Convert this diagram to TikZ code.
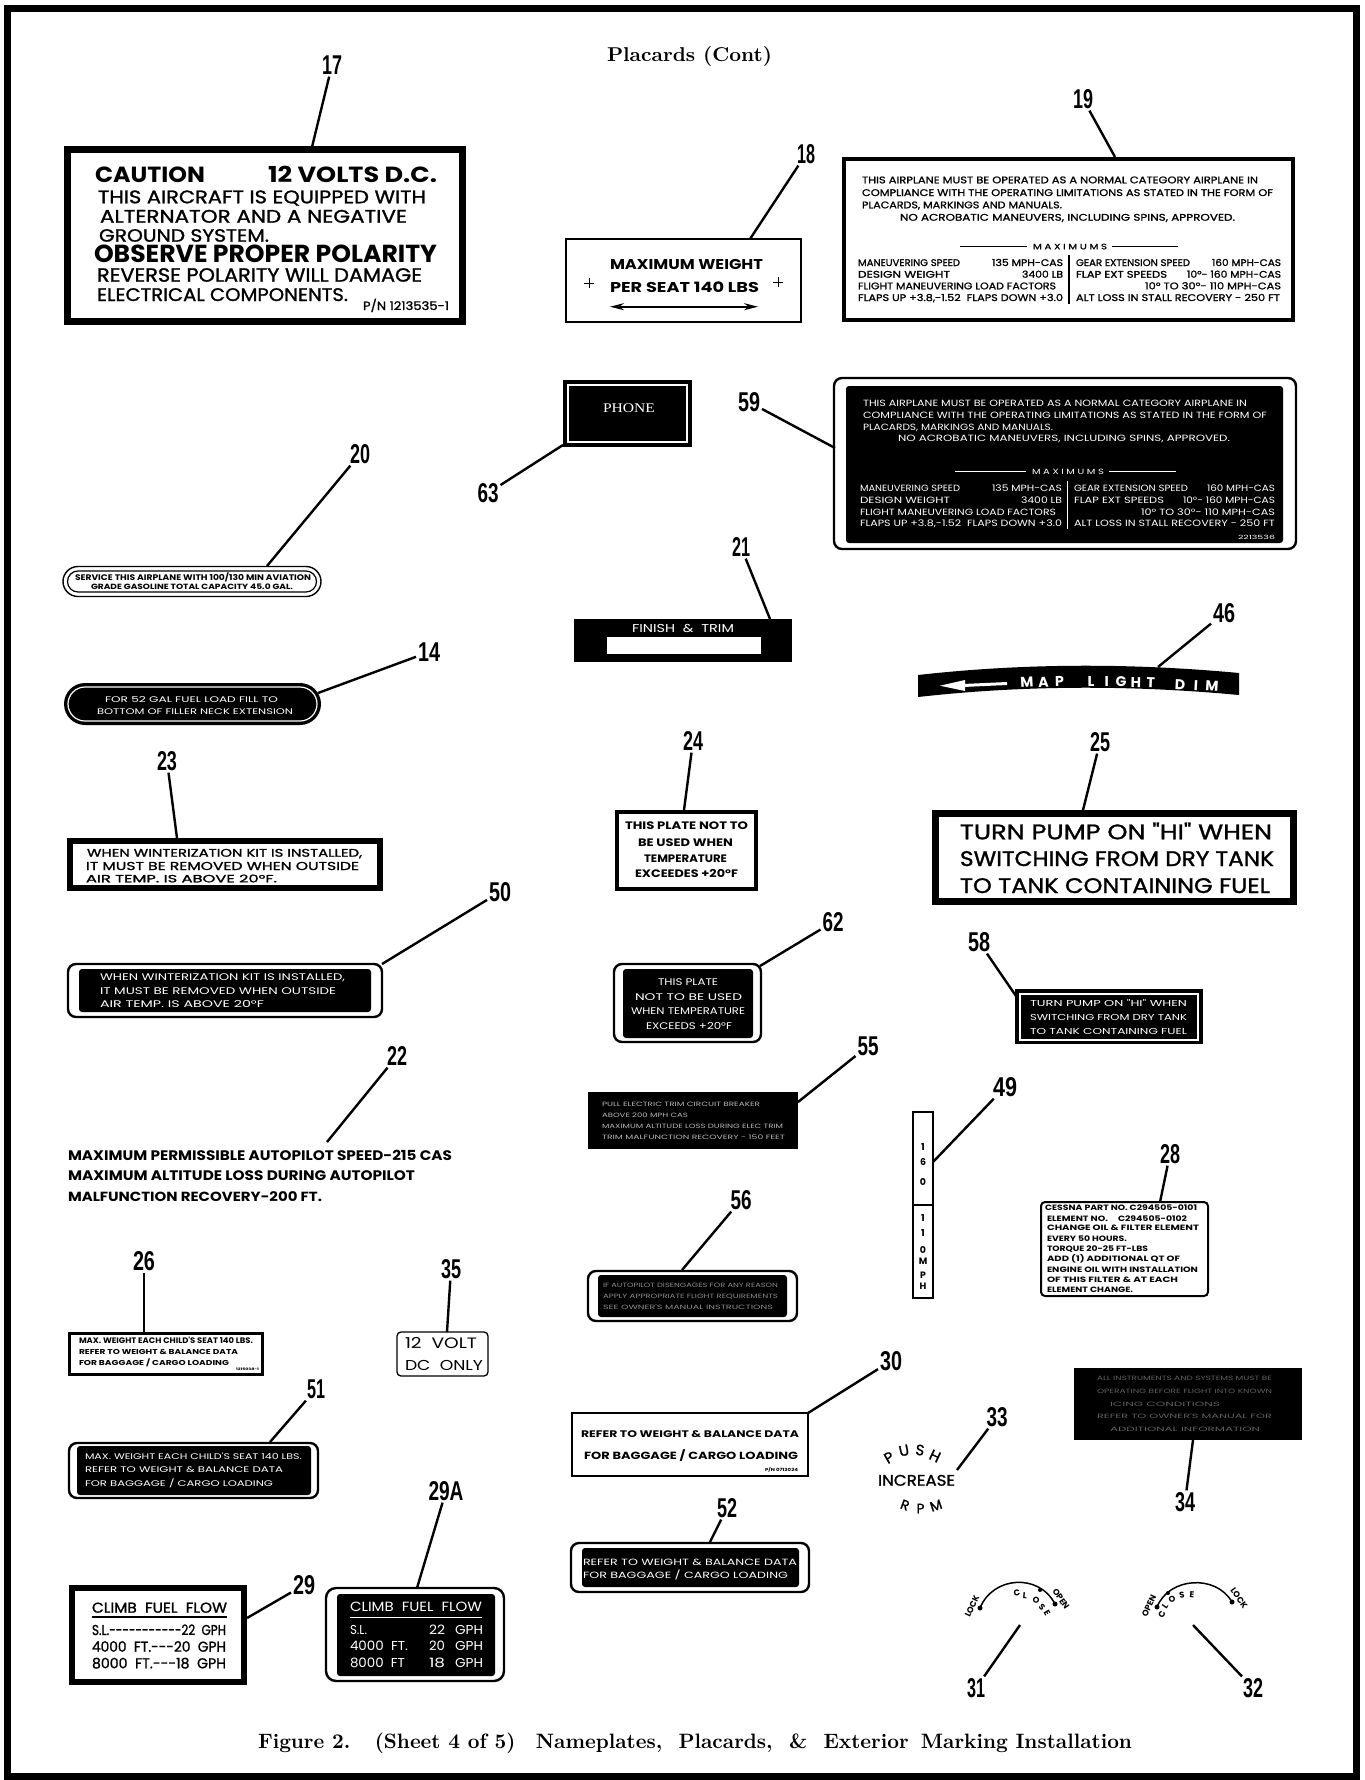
\documentclass[tikz,border=0pt]{standalone}
\usepackage{fontspec}
\usepackage{graphicx}
\usetikzlibrary{arrows.meta}
\newfontfamily\pp{Poppins}
\newfontfamily\ppm[FakeBold=1.2]{Poppins}
\newfontfamily\lsans{Liberation Sans}
\newfontfamily\lserif{Liberation Serif}
\newcommand\pb{\pp\bfseries}
\newcounter{tn}
\newcommand\T[7][black]{\stepcounter{tn}\node[txt,text=#1] (t\arabic{tn}) at (#3,#4) {\resizebox{#5pt}{#6pt}{#2\vphantom{H}\smash{#7}}};}
\newcommand\N[4]{\node[lbl] (n#1) at (#2,#3) {\resizebox{#4pt}{19pt}{\lsans\bfseries\vphantom{0}\smash{#1}}};}
\newcommand\Ld[3]{\coordinate (e#1) at (#2,#3); \draw[leader] (n#1) -- (e#1);}
\newcommand\Ch[6][black]{\stepcounter{tn}\node[ch,text=#1,rotate=#5] (t\arabic{tn}) at (#2,#3) {\resizebox{!}{#4pt}{#6}};}
\begin{document}
\begin{tikzpicture}[x=1pt,y=-1pt,
  txt/.style={inner sep=0pt,outer sep=0pt,anchor=base west},
  lbl/.style={inner sep=0pt,outer sep=2pt},
  ch/.style={inner sep=0pt,outer sep=0pt},
  leader/.style={line width=2.4pt},
  thin/.style={line width=1.5pt},
  ring/.style={line width=2.4pt,rounded corners=8pt},
  blk/.style={fill=black,rounded corners=3pt}]
\useasboundingbox (0,0) rectangle (1365,1780);
\draw[line width=7pt] (7.5,8.5) rectangle (1356.5,1776.5);
% title and caption
\node[txt] (title) at (607,61.7) {\resizebox{165pt}{15pt}{\bfseries Placards (Cont)}};
\node[txt] (caption) at (258,1748.3) {\resizebox{874pt}{15.6pt}{\bfseries Figure 2.\hspace{1.2em}(Sheet 4 of 5)\hspace{1em}Nameplates,\hspace{0.8em}Placards,\hspace{0.8em}\&\hspace{0.8em}Exterior\hspace{0.6em}Marking Installation}};

% ---------- 17
\draw[line width=7pt] (67.5,149.5) rectangle (462,321.5);
\T{\pb}{95}{182.7}{110}{15.4}{CAUTION}
\T{\pb}{268}{182.7}{169}{15.4}{12 VOLTS D.C.}
\T{\ppm}{98}{203.3}{328}{12.7}{THIS AIRCRAFT IS EQUIPPED WITH}
\T{\ppm}{100}{222.7}{307}{12.7}{ALTERNATOR AND A NEGATIVE}
\T{\ppm}{99}{241.7}{170}{12.4}{GROUND SYSTEM.}
\T{\pb}{94}{262.3}{343}{17.3}{OBSERVE PROPER POLARITY}
\T{\ppm}{97}{281.7}{325}{13.4}{REVERSE POLARITY WILL DAMAGE}
\T{\ppm}{97}{301}{251}{12.7}{ELECTRICAL COMPONENTS.}
\T{\ppm}{363}{310}{86}{8.3}{P/N 1213535-1}

% ---------- 18
\draw[thin] (566,239) rectangle (801,322);
\T{\pb}{610}{269.3}{153}{10}{MAXIMUM WEIGHT}
\T{\pb}{610}{292.7}{149}{10}{PER SEAT 140 LBS}
\draw[line width=1pt] (584,283) -- (594,283) (589,278) -- (589,288);
\draw[line width=1pt] (773,282) -- (783,282) (778,277) -- (778,287);
\coordinate (a18l) at (610,306.7); \coordinate (a18r) at (758,306.7);
\draw[line width=2pt,{Stealth[length=14pt,width=7pt]}-{Stealth[length=14pt,width=7pt]}] (a18l) -- (a18r);

% ---------- 19
\draw[line width=4pt] (844,159) rectangle (1293,320);
\T{\ppm}{862}{183.3}{396}{6.7}{THIS AIRPLANE MUST BE OPERATED AS A NORMAL CATEGORY AIRPLANE IN}
\T{\ppm}{862}{196}{411}{6.7}{COMPLIANCE WITH THE OPERATING LIMITATIONS AS STATED IN THE FORM OF}
\T{\ppm}{862}{208.3}{200}{6.7}{PLACARDS, MARKINGS AND MANUALS.}
\T{\ppm}{900}{220.7}{335}{6.7}{NO ACROBATIC MANEUVERS, INCLUDING SPINS, APPROVED.}
\T{\ppm}{1033}{249.3}{74}{5.5}{M A X I M U M S}
\draw[line width=1.2pt] (960,246.5) -- (1027,246.5) (1112,246.5) -- (1178,246.5);
\draw[line width=1.5pt] (1069,255) -- (1069,304);
\T{\ppm}{858}{266}{102}{6.7}{MANEUVERING SPEED}
\T{\ppm}{992}{266}{71}{6.7}{135 MPH-CAS}
\T{\ppm}{858}{277.7}{92}{6.7}{DESIGN WEIGHT}
\T{\ppm}{1022}{277.7}{41}{6.7}{3400 LB}
\T{\ppm}{858}{289.3}{198}{6.7}{FLIGHT MANEUVERING LOAD FACTORS}
\T{\ppm}{858}{301}{205}{6.7}{FLAPS UP +3.8,-1.52\ \ FLAPS DOWN +3.0}
\T{\ppm}{1076}{266}{114}{6.7}{GEAR EXTENSION SPEED}
\T{\ppm}{1212}{266}{69}{6.7}{160 MPH-CAS}
\T{\ppm}{1076}{277.7}{91}{6.7}{FLAP EXT SPEEDS}
\T{\ppm}{1187}{277.7}{94}{6.7}{10°- 160 MPH-CAS}
\T{\ppm}{1145}{289.3}{136}{6.7}{10° TO 30°- 110 MPH-CAS}
\T{\ppm}{1076}{301}{204}{6.7}{ALT LOSS IN STALL RECOVERY - 250 FT}

% ---------- 59
\draw[ring] (834,378) rectangle (1296,549);
\fill[blk] (846,386) rectangle (1283,543);
\T[white]{\pp}{863}{406.5}{384}{6.3}{THIS AIRPLANE MUST BE OPERATED AS A NORMAL CATEGORY AIRPLANE IN}
\T[white]{\pp}{863}{418}{404}{6.3}{COMPLIANCE WITH THE OPERATING LIMITATIONS AS STATED IN THE FORM OF}
\T[white]{\pp}{863}{430}{190}{6.3}{PLACARDS, MARKINGS AND MANUALS.}
\T[white]{\pp}{898}{441}{332}{6.3}{NO ACROBATIC MANEUVERS, INCLUDING SPINS, APPROVED.}
\T[white]{\pp}{1032}{474}{72}{5.3}{M A X I M U M S}
\draw[white,line width=1pt] (955,471.5) -- (1026,471.5) (1109,471.5) -- (1176,471.5);
\draw[white,line width=1pt] (1067,481) -- (1067,529);
\T[white]{\pp}{860}{491.5}{100}{6.3}{MANEUVERING SPEED}
\T[white]{\pp}{992}{491.5}{70}{6.3}{135 MPH-CAS}
\T[white]{\pp}{860}{503}{90}{6.3}{DESIGN WEIGHT}
\T[white]{\pp}{1021}{503}{41}{6.3}{3400 LB}
\T[white]{\pp}{860}{515}{196}{6.3}{FLIGHT MANEUVERING LOAD FACTORS}
\T[white]{\pp}{860}{526.5}{202}{6.3}{FLAPS UP +3.8,-1.52\ \ FLAPS DOWN +3.0}
\T[white]{\pp}{1074}{491.5}{114}{6.3}{GEAR EXTENSION SPEED}
\T[white]{\pp}{1207}{491.5}{68}{6.3}{160 MPH-CAS}
\T[white]{\pp}{1074}{503}{90}{6.3}{FLAP EXT SPEEDS}
\T[white]{\pp}{1183}{503}{92}{6.3}{10°- 160 MPH-CAS}
\T[white]{\pp}{1141}{515}{134}{6.3}{10° TO 30°- 110 MPH-CAS}
\T[white]{\pp}{1074}{526.5}{201}{6.3}{ALT LOSS IN STALL RECOVERY - 250 FT}
\T[white]{\pp}{1238}{539}{37}{4}{2213536}

% ---------- 63 PHONE
\fill (563,380) rectangle (692,447);
\draw[white,line width=1.5pt] (568,385) rectangle (687,442);
\T[white]{\lserif}{603}{412.7}{52}{8.7}{PHONE}

% ---------- 20
\draw[line width=1.4pt,rounded corners=15pt] (63,566.5) rectangle (321,596.5);
\draw[line width=1.2pt,rounded corners=10.5pt] (67.5,571) rectangle (316.5,592);
\T{\pb}{75}{580.7}{236}{5.7}{SERVICE THIS AIRPLANE WITH 100/130 MIN AVIATION}
\T{\pb}{91}{589}{202}{5.3}{GRADE GASOLINE TOTAL CAPACITY 45.0 GAL.}

% ---------- 14
\fill[rounded corners=21pt] (64,683) rectangle (321,725);
\draw[white,line width=1.2pt,rounded corners=17pt] (68,687) rectangle (317,721);
\T[white]{\pp}{105}{702.3}{173}{5.7}{FOR 52 GAL FUEL LOAD FILL TO}
\T[white]{\pp}{97}{714}{196}{5.7}{BOTTOM OF FILLER NECK EXTENSION}

% ---------- 21
\fill (574,619) rectangle (792,662);
\fill[white] (607,637) rectangle (761,654);
\T[white]{\pp}{632}{632.3}{102}{8}{FINISH\ \ \&\ \ TRIM}

% ---------- 46
\fill (918,675) .. controls (1025,663) and (1132,663) .. (1239,673) -- (1239,695) .. controls (1132,685) and (1025,685) .. (918,697) -- cycle;
\fill[white] (940,685.7) -- (965,680) -- (965,691) -- cycle;
\draw[white,line width=3pt] (963,685.5) -- (1007,683.5);
\Ch[white]{1027}{682.3}{10}{3}{\pb M}
\Ch[white]{1043.5}{682}{10}{2}{\pb A}
\Ch[white]{1059.5}{681.8}{10}{1}{\pb P}
\Ch[white]{1091}{681.6}{10}{0}{\pb L}
\Ch[white]{1106.7}{681.7}{10}{0}{\pb I}
\Ch[white]{1121}{682}{10}{-1}{\pb G}
\Ch[white]{1136}{682.3}{10}{-1}{\pb H}
\Ch[white]{1150.7}{682.8}{10}{-2}{\pb T}
\Ch[white]{1180}{685}{10}{-3}{\pb D}
\Ch[white]{1196}{685.3}{10}{-3}{\pb I}
\Ch[white]{1212}{685.8}{10}{-4}{\pb M}

% ---------- 23
\draw[line width=6pt] (70,841) rectangle (380,888);
\T{\ppm}{87}{856.7}{275}{7.7}{WHEN WINTERIZATION KIT IS INSTALLED,}
\T{\ppm}{86}{870}{273}{8}{IT MUST BE REMOVED WHEN OUTSIDE}
\T{\ppm}{86}{882.3}{191}{7.3}{AIR TEMP. IS ABOVE 20°F.}

% ---------- 24
\draw[line width=4pt] (617,812) rectangle (756,889);
\T{\pb}{625}{829.3}{123}{7.6}{THIS PLATE NOT TO}
\T{\pb}{638}{846}{95}{7.6}{BE USED WHEN}
\T{\pb}{644}{862.7}{83}{7.6}{TEMPERATURE}
\T{\pb}{635}{877.7}{103}{7.6}{EXCEEDES +20°F}

% ---------- 25
\draw[line width=7pt] (935.5,813.5) rectangle (1293.5,901.5);
\T{\ppm}{960}{839.3}{312}{14.7}{TURN PUMP ON "HI" WHEN}
\T{\ppm}{960}{866}{314}{14.7}{SWITCHING FROM DRY TANK}
\T{\ppm}{960}{893}{310}{14.7}{TO TANK CONTAINING FUEL}

% ---------- 50
\draw[ring] (68,964) rectangle (382,1017);
\fill[blk] (79,969) rectangle (371,1012);
\T[white]{\pp}{100}{980.7}{245}{6.7}{WHEN WINTERIZATION KIT IS INSTALLED,}
\T[white]{\pp}{100}{994}{236}{6.7}{IT MUST BE REMOVED WHEN OUTSIDE}
\T[white]{\pp}{100}{1007.7}{164}{6.7}{AIR TEMP. IS ABOVE 20°F}

% ---------- 62
\draw[ring] (614,964) rectangle (761,1042);
\fill[blk] (623,969) rectangle (753,1038);
\T[white]{\pp}{658}{985}{60}{6.7}{THIS PLATE}
\T[white]{\pp}{635}{1000}{107}{6.7}{NOT TO BE USED}
\T[white]{\pp}{631}{1014}{114}{6.7}{WHEN TEMPERATURE}
\T[white]{\pp}{646}{1029.3}{86}{6.7}{EXCEEDS +20°F}

% ---------- 58
\fill (1015,989) rectangle (1203,1044);
\draw[white,line width=1.5pt] (1020,994) rectangle (1198,1040);
\T[white]{\pp}{1030}{1006.7}{157}{6}{TURN PUMP ON "HI" WHEN}
\T[white]{\pp}{1030}{1020}{157}{6}{SWITCHING FROM DRY TANK}
\T[white]{\pp}{1030}{1034}{157}{6}{TO TANK CONTAINING FUEL}

% ---------- 22
\T{\pb}{68}{1160.7}{384}{9.7}{MAXIMUM PERMISSIBLE AUTOPILOT SPEED-215 CAS}
\T{\pb}{68}{1180.7}{347}{9.7}{MAXIMUM ALTITUDE LOSS DURING AUTOPILOT}
\T{\pb}{68}{1201}{254}{9.3}{MALFUNCTION RECOVERY-200 FT.}

% ---------- 55
\fill (588,1092) rectangle (798,1149);
\T[white!72!black]{\pp}{602}{1106.5}{158}{4.3}{PULL ELECTRIC TRIM CIRCUIT BREAKER}
\T[white!72!black]{\pp}{602}{1117}{86}{4.3}{ABOVE 200 MPH CAS}
\T[white!72!black]{\pp}{602}{1128}{181}{4.3}{MAXIMUM ALTITUDE LOSS DURING ELEC TRIM}
\T[white!72!black]{\pp}{602}{1139}{183}{4.3}{TRIM MALFUNCTION RECOVERY - 150 FEET}

% ---------- 56
\draw[ring] (588,1271) rectangle (797,1321);
\fill[blk] (598,1275) rectangle (787,1317);
\T[white!55!black]{\pp}{603}{1287}{175}{4.3}{IF AUTOPILOT DISENGAGES FOR ANY REASON}
\T[white!55!black]{\pp}{603}{1298}{175}{4.3}{APPLY APPROPRIATE FLIGHT REQUIREMENTS}
\T[white!55!black]{\pp}{603}{1309}{170}{4.3}{SEE OWNER'S MANUAL INSTRUCTIONS}

% ---------- 49
\draw[thin] (913,1112) rectangle (933,1298);
\draw[thin] (913,1205) -- (933,1205);
\Ch{923}{1146.7}{7}{0}{\pb 1}
\Ch{923}{1161.7}{7}{0}{\pb 6}
\Ch{923}{1181.7}{7}{0}{\pb 0}
\Ch{923}{1218.3}{7}{0}{\pb 1}
\Ch{923}{1233.3}{7}{0}{\pb 1}
\Ch{923}{1250}{7}{0}{\pb 0}
\Ch{923}{1261.7}{6.5}{0}{\pb M}
\Ch{923}{1275}{6.5}{0}{\pb P}
\Ch{923}{1286.7}{6.5}{0}{\pb H}

% ---------- 28
\draw[line width=2pt,rounded corners=4pt] (1041,1202) rectangle (1208,1296);
\T{\pb}{1045}{1210.1}{152}{5.4}{CESSNA PART NO. C294505-0101}
\T{\pb}{1047}{1221.1}{61}{5.4}{ELEMENT NO.}
\T{\pb}{1118}{1221.1}{69}{5.4}{C294505-0102}
\T{\pb}{1047}{1230.5}{152}{5.4}{CHANGE OIL \& FILTER ELEMENT}
\T{\pb}{1047}{1241.1}{80}{5.4}{EVERY 50 HOURS.}
\T{\pb}{1047}{1251.1}{101}{5.4}{TORQUE 20-25 FT-LBS}
\T{\pb}{1047}{1261.8}{133}{5.4}{ADD (1) ADDITIONAL QT OF}
\T{\pb}{1047}{1272.1}{151}{5.4}{ENGINE OIL WITH INSTALLATION}
\T{\pb}{1047}{1282.1}{131}{5.4}{OF THIS FILTER \& AT EACH}
\T{\pb}{1047}{1292.8}{86}{5.4}{ELEMENT CHANGE.}

% ---------- 26
\draw[line width=3pt] (69.5,1333.5) rectangle (262.5,1374.5);
\T{\pb}{79}{1343.3}{174}{5.6}{MAX. WEIGHT EACH CHILD'S SEAT 140 LBS.}
\T{\pb}{79}{1354}{159}{5}{REFER TO WEIGHT \& BALANCE DATA}
\T{\pb}{79}{1365.7}{150}{5}{FOR BAGGAGE / CARGO LOADING}
\T{\pb}{236}{1370}{23}{2.3}{1215038-1}

% ---------- 35
\draw[line width=1.3pt,rounded corners=4pt] (397,1332) rectangle (488,1376);
\T{\pp}{405}{1348}{72}{10.5}{12\ \ VOLT}
\T{\pp}{405}{1370}{78}{10}{DC\ \ ONLY}

% ---------- 51
\draw[ring] (69,1443) rectangle (318,1498);
\fill[blk] (77,1446) rectangle (311,1495);
\T[white]{\pp}{85}{1459}{217}{5.7}{MAX. WEIGHT EACH CHILD'S SEAT 140 LBS.}
\T[white]{\pp}{85}{1472.3}{198}{5.7}{REFER TO WEIGHT \& BALANCE DATA}
\T[white]{\pp}{85}{1486.7}{188}{5.7}{FOR BAGGAGE / CARGO LOADING}

% ---------- 30
\draw[thin] (572,1413) rectangle (808,1476);
\T{\pb}{581}{1437.7}{218}{6.7}{REFER TO WEIGHT \& BALANCE DATA}
\T{\pb}{584}{1459}{214}{7.3}{FOR BAGGAGE / CARGO LOADING}
\T{\pb}{765}{1471.7}{33}{3}{P/N 0713024}

% ---------- 52
\draw[ring] (571,1543) rectangle (809,1592);
\fill[blk] (582,1548) rectangle (799,1587);
\T[white]{\pp}{583}{1565.7}{214}{6.3}{REFER TO WEIGHT \& BALANCE DATA}
\T[white]{\pp}{583}{1578.3}{205}{6.3}{FOR BAGGAGE / CARGO LOADING}

% ---------- 33
\T{\ppm}{878}{1485.7}{77}{10.7}{INCREASE}
\Ch{889}{1457.5}{10.5}{30}{\ppm P}
\Ch{904}{1450.5}{10.5}{12}{\ppm U}
\Ch{920}{1450}{10.5}{-8}{\ppm S}
\Ch{935}{1456}{10.5}{-25}{\ppm H}
\Ch{905}{1505}{9.5}{-20}{\ppm R}
\Ch{920.5}{1508.5}{9.5}{0}{\ppm P}
\Ch{936}{1505.5}{9.5}{18}{\ppm M}

% ---------- 34
\fill (1074,1368) rectangle (1302,1440);
\T[white!38!black]{\pp}{1097}{1380.5}{175}{4.3}{ALL INSTRUMENTS AND SYSTEMS MUST BE}
\T[white!38!black]{\pp}{1097}{1393}{175}{4.3}{OPERATING BEFORE FLIGHT INTO KNOWN}
\T[white!38!black]{\pp}{1110}{1406}{110}{4.3}{ICING CONDITIONS}
\T[white!38!black]{\pp}{1097}{1418.5}{175}{4.3}{REFER TO OWNER'S MANUAL FOR}
\T[white!38!black]{\pp}{1110}{1431.5}{150}{4.3}{ADDITIONAL INFORMATION}

% ---------- 29
\draw[line width=6pt] (72,1588) rectangle (244,1682);
\T{\ppm}{92}{1612.7}{135}{10}{CLIMB\ \ FUEL\ \ FLOW}
\draw[line width=1.5pt] (92,1617) -- (227,1617);
\T{\ppm}{92}{1635}{134}{10}{S.L.-----------22\ \ GPH}
\T{\ppm}{92}{1651.7}{134}{10}{4000\ \ FT.---20\ \ GPH}
\T{\ppm}{92}{1668.3}{134}{10}{8000\ \ FT.---18\ \ GPH}

% ---------- 29A
\draw[line width=2.4pt,rounded corners=10pt] (326,1588) rectangle (504,1681);
\fill[blk] (337,1594) rectangle (495,1676);
\T[white]{\pp}{350}{1611}{132}{9.3}{CLIMB\ \ FUEL\ \ FLOW}
\draw[white,line width=1pt] (350,1617) -- (482,1617);
\T[white]{\pp}{350}{1634}{17}{9}{S.L.}
\T[white]{\pp}{429}{1634}{16}{9}{22}
\T[white]{\pp}{455}{1634}{28}{9}{GPH}
\T[white]{\pp}{350}{1650.7}{58}{9}{4000\ \ FT.}
\T[white]{\pp}{429}{1650.7}{16}{9}{20}
\T[white]{\pp}{455}{1650.7}{28}{9}{GPH}
\T[white]{\pp}{350}{1667.3}{55}{9}{8000\ \ FT}
\T[white]{\pp}{429}{1667.3}{16}{9}{18}
\T[white]{\pp}{455}{1667.3}{28}{9}{GPH}

% ---------- 31 dial
\draw[line width=1.5pt] (980,1608) .. controls (993,1576) and (1039,1573) .. (1055,1604);
\fill (980,1608) circle (2.5pt) (1055,1604) circle (2.5pt) (1040,1590) circle (2pt);
\Ch{972}{1606}{6}{65}{\pb LOCK}
\Ch{1017}{1593}{6}{12}{\pb C}
\Ch{1025}{1596}{6}{-5}{\pb L}
\Ch{1036}{1600}{6}{-25}{\pb O}
\Ch{1042}{1607}{6}{-45}{\pb S}
\Ch{1047}{1613}{6}{-60}{\pb E}
\Ch{1061}{1599}{6}{-55}{\pb OPEN}
% ---------- 32 dial
\draw[line width=1.5pt] (1157,1607) .. controls (1169,1577) and (1216,1574) .. (1232,1602);
\fill (1157,1607) circle (2.5pt) (1232,1602) circle (2.5pt) (1168,1593) circle (2pt);
\Ch{1149}{1606}{6}{65}{\pb OPEN}
\Ch{1162}{1614}{6}{70}{\pb C}
\Ch{1165}{1606}{6}{55}{\pb L}
\Ch{1172}{1599}{6}{30}{\pb O}
\Ch{1182}{1595}{6}{10}{\pb S}
\Ch{1192}{1595}{6}{-5}{\pb E}
\Ch{1239}{1598}{6}{-55}{\pb LOCK}

% ---------- labels
\N{17}{332}{65}{20}
\N{18}{806}{154}{18}
\N{19}{1083}{99}{20}
\N{59}{749}{402}{22}
\N{63}{488}{493}{21}
\N{20}{360}{454}{20}
\N{14}{429}{652}{22}
\N{21}{741}{547}{18}
\N{46}{1224}{613}{22}
\N{23}{167}{761}{20}
\N{24}{693}{741}{20}
\N{25}{1100}{742}{20}
\N{50}{500}{892}{22}
\N{62}{833}{922}{21}
\N{58}{979}{942}{22}
\N{22}{397}{1056}{20}
\N{55}{868}{1046}{21}
\N{49}{1005}{1087}{24}
\N{28}{1170}{1154}{20}
\N{56}{741}{1200}{21}
\N{26}{144}{1261}{22}
\N{35}{451}{1269}{20}
\N{51}{316}{1389}{18}
\N{30}{891}{1361}{22}
\N{33}{997}{1417}{21}
\N{34}{1185}{1502}{20}
\N{29A}{446}{1491}{35}
\N{29}{304}{1585}{22}
\N{52}{727}{1508}{20}
\N{31}{976}{1688}{18}
\N{32}{1253}{1688}{20}

% ---------- leaders
\Ld{17}{312}{147}
\Ld{18}{750}{239}
\Ld{19}{1115}{157}
\Ld{59}{835}{448}
\Ld{63}{563}{445}
\Ld{20}{267}{566}
\Ld{14}{318}{693}
\Ld{21}{770}{619}
\Ld{46}{1158}{667}
\Ld{23}{177}{838}
\Ld{24}{684}{810}
\Ld{25}{1083}{810}
\Ld{50}{382}{964}
\Ld{62}{760}{966}
\Ld{58}{1016}{996}
\Ld{22}{327}{1142}
\Ld{55}{798}{1102}
\Ld{49}{933}{1162}
\Ld{28}{1160}{1202}
\Ld{56}{682}{1270}
\Ld{26}{144}{1332}
\Ld{35}{447}{1332}
\Ld{51}{270}{1442}
\Ld{30}{808}{1413}
\Ld{33}{957}{1470}
\Ld{34}{1193}{1440}
\Ld{29A}{417}{1588}
\Ld{29}{247}{1618}
\Ld{52}{710}{1542}
\Ld{31}{1020}{1625}
\Ld{32}{1193}{1625}
\end{tikzpicture}
\end{document}
